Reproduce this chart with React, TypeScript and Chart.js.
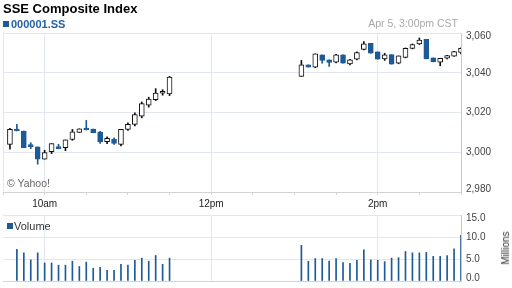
import React, { useEffect, useRef } from "react";
import { Chart, registerables } from "chart.js";

Chart.register(...registerables);

// ---- data ----
const times = [
  "9:35", "9:40", "9:45", "9:50", "9:55", "10:00", "10:05", "10:10", "10:15", "10:20", "10:25", "10:30",
  "10:35", "10:40", "10:45", "10:50", "10:55", "11:00", "11:05", "11:10", "11:15", "11:20", "11:25", "11:30",
  "13:05", "13:10", "13:15", "13:20", "13:25", "13:30", "13:35", "13:40", "13:45", "13:50", "13:55", "14:00",
  "14:05", "14:10", "14:15", "14:20", "14:25", "14:30", "14:35", "14:40", "14:45", "14:50", "14:55", "15:00",
];

const opens = [
  3004, 3011.5, 3010.7, 3003, 3002.7, 2996.5, 3000.3, 3002.8, 3002.3, 3006.5, 3010, 3011.7,
  3011.7, 3010.2, 3005.3, 3006.5, 3004, 3011.5, 3014, 3018.2, 3023.7, 3026.5, 3029.7, 3029.3,
  3038.2, 3044, 3042.8, 3049, 3046.5, 3045.3, 3049, 3044.5, 3046.8, 3051.8, 3054.8, 3050.5,
  3047, 3049.2, 3044.8, 3047.7, 3052.3, 3054.5, 3056.8, 3047.5, 3045.3, 3047.3, 3048.4, 3050.2,
];

const closes = [
  3011.5, 3010.7, 3002.3, 3002.8, 2996.5, 2999.8, 3004.3, 3001.8, 3006.2, 3010.3, 3011.8, 3011.2,
  3009.8, 3005.2, 3007, 3004.5, 3011.5, 3014, 3019, 3024.5, 3026.8, 3029.8, 3029.9, 3037.8,
  3044, 3042.8, 3049.5, 3046.2, 3045.2, 3049, 3044.8, 3046.5, 3050.2, 3054.5, 3049.8, 3046.8,
  3049, 3044.3, 3048.5, 3052.3, 3054.2, 3056.5, 3047, 3045.5, 3047.2, 3048.6, 3050.6, 3052.3,
];

const highs = [
  3012, 3014, 3010.7, 3004.8, 3002.7, 3001, 3004.3, 3004, 3006.2, 3011.5, 3011.8, 3016,
  3011.7, 3010.5, 3007.7, 3007.3, 3011.5, 3014.8, 3019.8, 3025.3, 3027.7, 3032, 3031.5, 3038.2,
  3046.2, 3044, 3049.5, 3049, 3046.5, 3049.3, 3049, 3046.8, 3050.5, 3055.7, 3054.8, 3050.5,
  3049.8, 3049.2, 3048.5, 3052.5, 3054.5, 3057.5, 3056.8, 3047.5, 3047.3, 3048.8, 3050.8, 3052.5,
];

const lows = [
  3001.5, 3010.7, 3002.3, 3001.8, 2994, 2996.5, 2999.3, 3001.8, 3000.8, 3006, 3010, 3011.2,
  3009.8, 3004.5, 3004.3, 3004, 3003.2, 3011, 3013.2, 3017.3, 3022.7, 3026, 3028.7, 3028.5,
  3038.2, 3042.8, 3042.5, 3044.8, 3043.2, 3045, 3044.8, 3044, 3046.5, 3051.5, 3049.8, 3046.8,
  3046.2, 3044.3, 3044.5, 3047.5, 3052, 3054.2, 3047, 3045.5, 3043.5, 3047, 3048.2, 3049.5,
];

// volume in millions (none shown for the first bar)
const volumes: (number | null)[] = [
  null, 7.2, 6.4, 4.8, 6.4, 4.1, 4.1, 3.6, 3.6, 4.5, 3.3, 4.3,
  2.9, 3.1, 2.4, 2.4, 3.8, 3.6, 4.7, 5.2, 4.5, 5.8, 3.8, 5.2,
  8.1, 4.5, 5.1, 5.1, 4.5, 5.1, 4.2, 4.0, 4.7, 7.1, 4.8, 4.7,
  4.4, 5.2, 5.3, 6.7, 6.4, 6.4, 6.5, 5.6, 5.6, 5.8, 7.3, 10.4,
];

const priceTicks = [2980, 3000, 3020, 3040, 3060];
const volumeTicks = [0, 5, 10, 15];
const minorTimeTicks = ["9:30", "10:00", "10:30", "11:00", "11:30", "12:00", "12:30", "13:00", "13:30", "14:00", "14:30", "15:00"];
const hourTickTimes = ["10:00", "12:00", "14:00"];
const hourTickLabels = ["10am", "12pm", "2pm"];
const sessionStart = "9:30";
const sessionEnd = "15:00";

// ---- styling ----
const FONT = "Arial, 'Liberation Sans', sans-serif";
const BLUE = "#1d5a96";
const GRID = "#e2e7ef";
const BORDER = "#c9c9c9";

const toMin = (s: string) => {
  const [h, m] = s.split(":").map(Number);
  return h * 60 + m;
};

const xs = times.map(toMin);
const minorVals = minorTimeTicks.map(toMin);
const hourVals = hourTickTimes.map(toMin);
const xMin = toMin(sessionStart);
const xMax = toMin(sessionEnd);
const isUp = opens.map((o, i) => closes[i] >= o);

const fmtPrice = (v: number) => {
  const s = Math.round(v).toString();
  return s.length > 3 ? s.slice(0, s.length - 3) + "," + s.slice(s.length - 3) : s;
};
const fmtVol = (v: number) => v.toFixed(1);

// right-hand y labels, kept inside the plot's vertical range like the original
const makeYLabelPlugin = (format: (v: number) => string) => ({
  id: "yLabels",
  afterDraw(chart: any) {
    const s = chart.scales.y;
    const { ctx, chartArea } = chart;
    ctx.save();
    ctx.font = `10px ${FONT}`;
    ctx.fillStyle = "#444";
    ctx.textAlign = "left";
    ctx.textBaseline = "middle";
    for (const t of s.ticks) {
      let y = s.getPixelForValue(t.value);
      y = Math.min(Math.max(y, chartArea.top + 3), chartArea.bottom - 3);
      ctx.fillText(format(t.value), chartArea.right + 5, y);
    }
    ctx.restore();
  },
});

export default function App() {
  const priceRef = useRef<HTMLCanvasElement | null>(null);
  const volRef = useRef<HTMLCanvasElement | null>(null);

  useEffect(() => {
    if (!priceRef.current || !volRef.current) return;

    const priceChart = new Chart(priceRef.current, {
      type: "bar",
      data: {
        datasets: [
          {
            label: "body",
            data: xs.map((x, i) => ({ x, y: [opens[i], closes[i]] })) as any,
            backgroundColor: isUp.map((u) => (u ? "#ffffff" : BLUE)),
            borderColor: isUp.map((u) => (u ? "#111111" : BLUE)),
            borderWidth: 1,
            borderSkipped: false,
            barThickness: 5,
            minBarLength: 2,
            grouped: false,
            order: 0,
          } as any,
          {
            label: "wick",
            data: xs.map((x, i) => ({ x, y: [lows[i], highs[i]] })) as any,
            backgroundColor: isUp.map((u) => (u ? "#111111" : BLUE)),
            borderWidth: 0,
            barThickness: 1,
            grouped: false,
            order: 1,
          } as any,
        ],
      },
      options: {
        animation: false,
        responsive: false,
        events: [],
        layout: { padding: { top: 33, left: 3, right: 0, bottom: 0 } },
        plugins: { legend: { display: false }, tooltip: { enabled: false } },
        scales: {
          x: {
            type: "linear",
            min: xMin,
            max: xMax,
            offset: false,
            afterBuildTicks: (s: any) => {
              s.ticks = minorVals.map((v) => ({ value: v }));
            },
            afterFit: (s: any) => {
              s.height = 20;
            },
            grid: {
              offset: false,
              drawTicks: true,
              tickLength: 3,
              tickColor: "#d6d6d6",
              color: (ctx: any) => {
                const v = ctx.tick ? ctx.tick.value : null;
                return v === xMin || hourVals.includes(v) ? GRID : "rgba(0,0,0,0)";
              },
            },
            border: { color: "#d3d3d3" },
            ticks: {
              autoSkip: false,
              maxRotation: 0,
              padding: 3,
              color: "#222",
              font: { family: FONT, size: 10 },
              callback: (v: any) => {
                const k = hourVals.indexOf(Number(v));
                return k >= 0 ? hourTickLabels[k] : "";
              },
            },
          } as any,
          y: {
            type: "linear",
            position: "right",
            min: priceTicks[0],
            max: priceTicks[priceTicks.length - 1],
            afterBuildTicks: (s: any) => {
              s.ticks = priceTicks.map((v) => ({ value: v }));
            },
            afterFit: (s: any) => {
              s.width = 51;
            },
            grid: { color: GRID, drawTicks: false },
            border: { color: BORDER },
            ticks: { display: false },
          } as any,
        },
      },
      plugins: [makeYLabelPlugin(fmtPrice)],
    });

    const volChart = new Chart(volRef.current, {
      type: "bar",
      data: {
        datasets: [
          {
            label: "Volume",
            data: xs
              .map((x, i) => ({ x, y: volumes[i] }))
              .filter((d) => d.y !== null) as any,
            backgroundColor: BLUE,
            borderWidth: 0,
            barThickness: 1,
            grouped: false,
          } as any,
        ],
      },
      options: {
        animation: false,
        responsive: false,
        events: [],
        layout: { padding: { top: 15, left: 3, right: 0, bottom: 0 } },
        plugins: { legend: { display: false }, tooltip: { enabled: false } },
        scales: {
          x: {
            type: "linear",
            min: xMin,
            max: xMax,
            offset: false,
            afterBuildTicks: (s: any) => {
              s.ticks = hourVals.map((v) => ({ value: v }));
            },
            afterFit: (s: any) => {
              s.height = 7;
            },
            grid: { offset: false, drawTicks: false, color: GRID },
            border: { color: "#d3d3d3" },
            ticks: { display: false },
          } as any,
          y: {
            type: "linear",
            position: "right",
            min: volumeTicks[0],
            max: volumeTicks[volumeTicks.length - 1],
            afterBuildTicks: (s: any) => {
              s.ticks = volumeTicks.map((v) => ({ value: v }));
            },
            afterFit: (s: any) => {
              s.width = 51;
            },
            grid: { color: GRID, drawTicks: false },
            border: { color: BORDER },
            ticks: { display: false },
          } as any,
        },
      },
      plugins: [makeYLabelPlugin(fmtVol)],
    });

    return () => {
      priceChart.destroy();
      volChart.destroy();
    };
  }, []);

  const abs: React.CSSProperties = { position: "absolute", whiteSpace: "nowrap", lineHeight: 1, fontFamily: FONT };

  return (
    <div style={{ position: "absolute", left: 0, top: 0, width: 512, height: 288, background: "#fff", overflow: "hidden" }}>
      <canvas ref={priceRef} width={512} height={212} style={{ position: "absolute", left: 0, top: 0, width: 512, height: 212 }} />
      <canvas ref={volRef} width={512} height={88} style={{ position: "absolute", left: 0, top: 200, width: 512, height: 88 }} />

      <div style={{ ...abs, left: 3, top: 1.5, fontSize: 13, fontWeight: "bold", color: "#000" }}>SSE Composite Index</div>
      <div style={{ position: "absolute", left: 3, top: 21, width: 6, height: 6, background: BLUE }} />
      <div style={{ ...abs, left: 11, top: 18.7, fontSize: 11, fontWeight: "bold", color: "#2663a3" }}>000001.SS</div>
      <div style={{ ...abs, right: 54, top: 18.4, fontSize: 10.5, color: "#a8a8a8", textAlign: "right" }}>Apr 5, 3:00pm CST</div>
      <div style={{ ...abs, left: 7, top: 178, fontSize: 10.5, color: "#666" }}>© Yahoo!</div>

      <div style={{ position: "absolute", left: 7, top: 223, width: 6, height: 6, background: BLUE }} />
      <div style={{ ...abs, left: 14, top: 221, fontSize: 11, color: "#333" }}>Volume</div>
      <div
        style={{
          ...abs,
          left: 506,
          top: 248,
          fontSize: 10,
          color: "#333",
          transform: "translate(-50%, -50%) rotate(-90deg)",
        }}
      >
        Millions
      </div>
    </div>
  );
}
